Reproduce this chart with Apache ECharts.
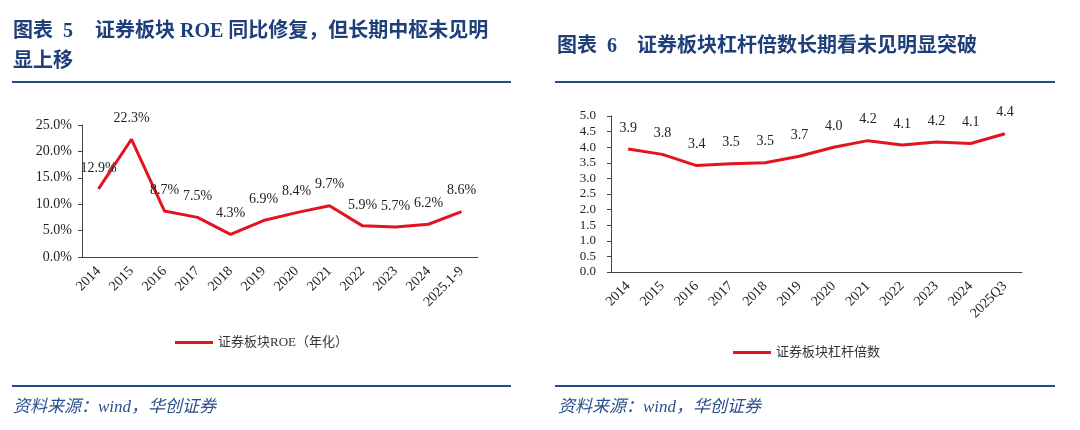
<!DOCTYPE html>
<html><head><meta charset="utf-8">
<script src="https://cdn.jsdelivr.net/npm/echarts@6/dist/echarts.min.js"></script>
<style>html,body{margin:0;padding:0;background:#fff}#c{width:1080px;height:430px}</style>
</head><body><div id="c"></div>
<script>
var roeCategories = ['2014','2015','2016','2017','2018','2019','2020','2021','2022','2023','2024','2025.1-9'];
var roeValues = [12.9, 22.3, 8.7, 7.5, 4.3, 6.9, 8.4, 9.7, 5.9, 5.7, 6.2, 8.6];
var levCategories = ['2014','2015','2016','2017','2018','2019','2020','2021','2022','2023','2024','2025Q3'];
var levValues = [3.94, 3.77, 3.41, 3.47, 3.50, 3.71, 4.00, 4.21, 4.07, 4.17, 4.12, 4.43];
var roeName = '证券板块ROE（年化）';
var levName = '证券板块杠杆倍数';

var serif = '"Liberation Serif","Times New Roman","Noto Sans CJK SC",serif';
var blue = '#1f3f7a';
var red = '#e3141e';
var axisColor = '#444';

function titleText(x, y, txt) {
  return {type:'text', left:x, top:y, style:{text:txt, font:'bold 20px ' + serif, fill:blue}};
}
function rule(x1, x2, y) {
  return {type:'line', shape:{x1:x1, y1:y, x2:x2, y2:y}, style:{stroke:'#1f4e8f', lineWidth:2}};
}
function source(x) {
  return {type:'text', left:x, top:399, style:{text:'资料来源：wind，华创证券', font:'italic 17px ' + serif, fill:'#2b4e8c'}};
}

var chart = echarts.init(document.getElementById('c'));
chart.setOption({
  animation:false,
  textStyle:{fontFamily:serif},
  graphic:[
    titleText(13, 22, '图表'),
    titleText(63, 22, '5'),
    titleText(95, 22, '证券板块 ROE 同比修复，但长期中枢未见明'),
    titleText(13, 52, '显上移'),
    titleText(557, 37, '图表'),
    titleText(607, 37, '6'),
    titleText(637, 37, '证券板块杠杆倍数长期看未见明显突破'),
    rule(12, 511, 82), rule(555, 1055, 82),
    rule(12, 511, 386), rule(555, 1055, 386),
    source(13), source(558)
  ],
  legend:[
    {data:[roeName], left:170, top:331, icon:'rect', itemWidth:38, itemHeight:3, itemGap:5,
     textStyle:{fontSize:13, color:'#333', fontFamily:serif}},
    {data:[levName], left:728, top:341, icon:'rect', itemWidth:38, itemHeight:3, itemGap:5,
     textStyle:{fontSize:13, color:'#333', fontFamily:serif}}
  ],
  grid:[
    {left:82, right:602, top:125, bottom:173},
    {left:611, right:58, top:116, bottom:158}
  ],
  xAxis:[
    {type:'category', gridIndex:0, data:roeCategories, boundaryGap:true,
     axisLine:{lineStyle:{color:axisColor}}, axisTick:{length:4, lineStyle:{color:axisColor}},
     axisLabel:{rotate:45, interval:0, fontSize:14, color:'#222', margin:12}},
    {type:'category', gridIndex:1, data:levCategories, boundaryGap:true,
     axisLine:{lineStyle:{color:axisColor}}, axisTick:{length:4, lineStyle:{color:axisColor}},
     axisLabel:{rotate:45, interval:0, fontSize:14, color:'#222', margin:12}}
  ],
  yAxis:[
    {type:'value', gridIndex:0, min:0, max:25, interval:5, splitLine:{show:false},
     axisLine:{show:true, lineStyle:{color:axisColor}}, axisTick:{show:true, length:4, lineStyle:{color:axisColor}},
     axisLabel:{fontSize:14, color:'#222', margin:10, formatter:function(v){return v.toFixed(1)+'%';}}},
    {type:'value', gridIndex:1, min:0, max:5, interval:0.5, splitLine:{show:false},
     axisLine:{show:true, lineStyle:{color:axisColor}}, axisTick:{show:true, length:4, lineStyle:{color:axisColor}},
     axisLabel:{fontSize:13, color:'#222', margin:15, formatter:function(v){return v.toFixed(1);}}}
  ],
  series:[
    {name:roeName, type:'line', xAxisIndex:0, yAxisIndex:0, data:roeValues, symbol:'circle', symbolSize:0,
     lineStyle:{color:red, width:3}, itemStyle:{color:red},
     label:{show:true, position:'top', distance:14, fontSize:14, color:'#222',
            formatter:function(p){return p.value.toFixed(1)+'%';}}},
    {name:levName, type:'line', xAxisIndex:1, yAxisIndex:1, data:levValues, symbol:'circle', symbolSize:0,
     lineStyle:{color:red, width:3}, itemStyle:{color:red},
     label:{show:true, position:'top', distance:14, fontSize:14, color:'#222',
            formatter:function(p){return p.value.toFixed(1);}}}
  ]
});
</script></body></html>
